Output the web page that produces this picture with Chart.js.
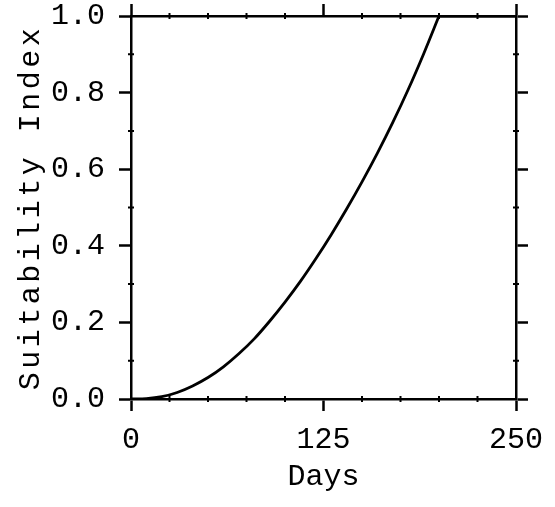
<!DOCTYPE html>
<html>
<head>
<meta charset="utf-8">
<script src="https://cdn.jsdelivr.net/npm/chart.js@4.4.1/dist/chart.umd.min.js"></script>
<style>
  html, body { margin: 0; padding: 0; background: #fff; }
  #wrap { width: 555px; height: 507px; }
</style>
</head>
<body>
<div id="wrap"><canvas id="myChart" width="555" height="507"></canvas></div>
<script>
// values
const days = [0, 10, 20, 30, 40, 50, 60, 70, 80, 90, 100, 110, 120, 130, 140, 150, 160, 170, 180, 190, 200, 250];
const suitability = [0, 0.001, 0.006, 0.017, 0.034, 0.056, 0.084, 0.118, 0.157, 0.203, 0.253, 0.307, 0.366, 0.429, 0.496, 0.567, 0.642, 0.722, 0.808, 0.901, 1.0, 1.0];
const plateauStart = 20; // index where the curve reaches 1.0 (day 200)

const xMajorTicks = [0, 125, 250];
const xMinorTicks = [25, 50, 75, 100, 150, 175, 200, 225];
const yMajorTicks = [0, 0.2, 0.4, 0.6, 0.8, 1.0];
const yMinorTicks = [0.1, 0.3, 0.5, 0.7, 0.9];

const FONT = 'Liberation Mono';

const toPoints = (from, to) => days.slice(from, to).map((d, i) => ({ x: d, y: suitability[from + i] }));

// small minor tick marks on all four sides
const minorTicks = {
    id: 'minorTicks',
    afterDraw(chart) {
        const { ctx, chartArea: a, scales: { x, y } } = chart;
        ctx.save();
        ctx.strokeStyle = '#000';
        ctx.lineWidth = 2;
        ctx.beginPath();
        xMinorTicks.forEach(v => {
            const px = x.getPixelForValue(v);
            ctx.moveTo(px, a.bottom - 3); ctx.lineTo(px, a.bottom + 3);
            ctx.moveTo(px, a.top - 3); ctx.lineTo(px, a.top + 3);
        });
        yMinorTicks.forEach(v => {
            const py = y.getPixelForValue(v);
            ctx.moveTo(a.left - 3, py); ctx.lineTo(a.left + 3, py);
            ctx.moveTo(a.right - 3, py); ctx.lineTo(a.right + 3, py);
        });
        ctx.stroke();
        ctx.restore();
    }
};

// wider letter spacing on the y title only
const spaceTitle = s => {
    if (s._spaced) return;
    const orig = s.drawTitle.bind(s);
    s.drawTitle = (...args) => {
        s.ctx.save();
        s.ctx.letterSpacing = '3.5px';
        orig(...args);
        s.ctx.restore();
    };
    s._spaced = true;
};

// keep label overhang from pushing the plot area around
const noOverhang = s => {
    s.paddingTop = 0; s.paddingBottom = 0;
    s.paddingLeft = 0; s.paddingRight = 0;
};

const axisGrid = {
    drawOnChartArea: false,
    drawTicks: true,
    tickLength: 12,
    tickWidth: 2.5,
    tickColor: '#000'
};
const axisBorder = { display: true, color: '#000', width: 2.5 };
const lineStyle = { borderColor: '#000', borderWidth: 2.8, pointRadius: 0, fill: false };

const ctx = document.getElementById('myChart').getContext('2d');
new Chart(ctx, {
    type: 'line',
    data: {
        datasets: [
            { ...lineStyle, data: toPoints(0, plateauStart + 1), cubicInterpolationMode: 'monotone' },
            { ...lineStyle, data: toPoints(plateauStart, days.length) }
        ]
    },
    options: {
        responsive: false,
        animation: false,
        events: [],
        layout: { padding: { top: 16, right: 39, left: 0, bottom: 0 } },
        plugins: { legend: { display: false }, tooltip: { enabled: false } },
        scales: {
            x: {
                type: 'linear',
                position: 'bottom',
                min: 0, max: 250,
                afterBuildTicks: s => { s.ticks = xMajorTicks.map(v => ({ value: v })); },
                afterFit: s => { s.height = 108; noOverhang(s); },
                grid: axisGrid,
                border: axisBorder,
                ticks: { color: '#000', padding: 11, maxRotation: 0, font: { family: FONT, size: 30 } },
                title: { display: true, text: 'Days', color: '#000', padding: { top: 0, bottom: 12 }, font: { family: FONT, size: 30 } }
            },
            xTop: {
                type: 'linear',
                position: 'top',
                min: 0, max: 250,
                afterBuildTicks: s => { s.ticks = xMajorTicks.map(v => ({ value: v })); },
                afterFit: s => { s.height = 0; noOverhang(s); },
                grid: axisGrid,
                border: axisBorder,
                ticks: { display: false }
            },
            y: {
                type: 'linear',
                position: 'left',
                min: 0, max: 1,
                afterBuildTicks: s => { s.ticks = yMajorTicks.map(v => ({ value: v })); },
                afterFit: s => { s.width = 131; noOverhang(s); spaceTitle(s); },
                grid: axisGrid,
                border: axisBorder,
                ticks: { color: '#000', padding: 14, callback: v => v.toFixed(1), font: { family: FONT, size: 30 } },
                title: { display: true, text: 'Suitability Index', color: '#000', padding: { top: 13, bottom: 0 }, font: { family: FONT, size: 30 } }
            },
            yRight: {
                type: 'linear',
                position: 'right',
                min: 0, max: 1,
                afterBuildTicks: s => { s.ticks = yMajorTicks.map(v => ({ value: v })); },
                afterFit: s => { s.width = 0; noOverhang(s); },
                grid: axisGrid,
                border: axisBorder,
                ticks: { display: false }
            }
        }
    },
    plugins: [minorTicks]
});
</script>
</body>
</html>
